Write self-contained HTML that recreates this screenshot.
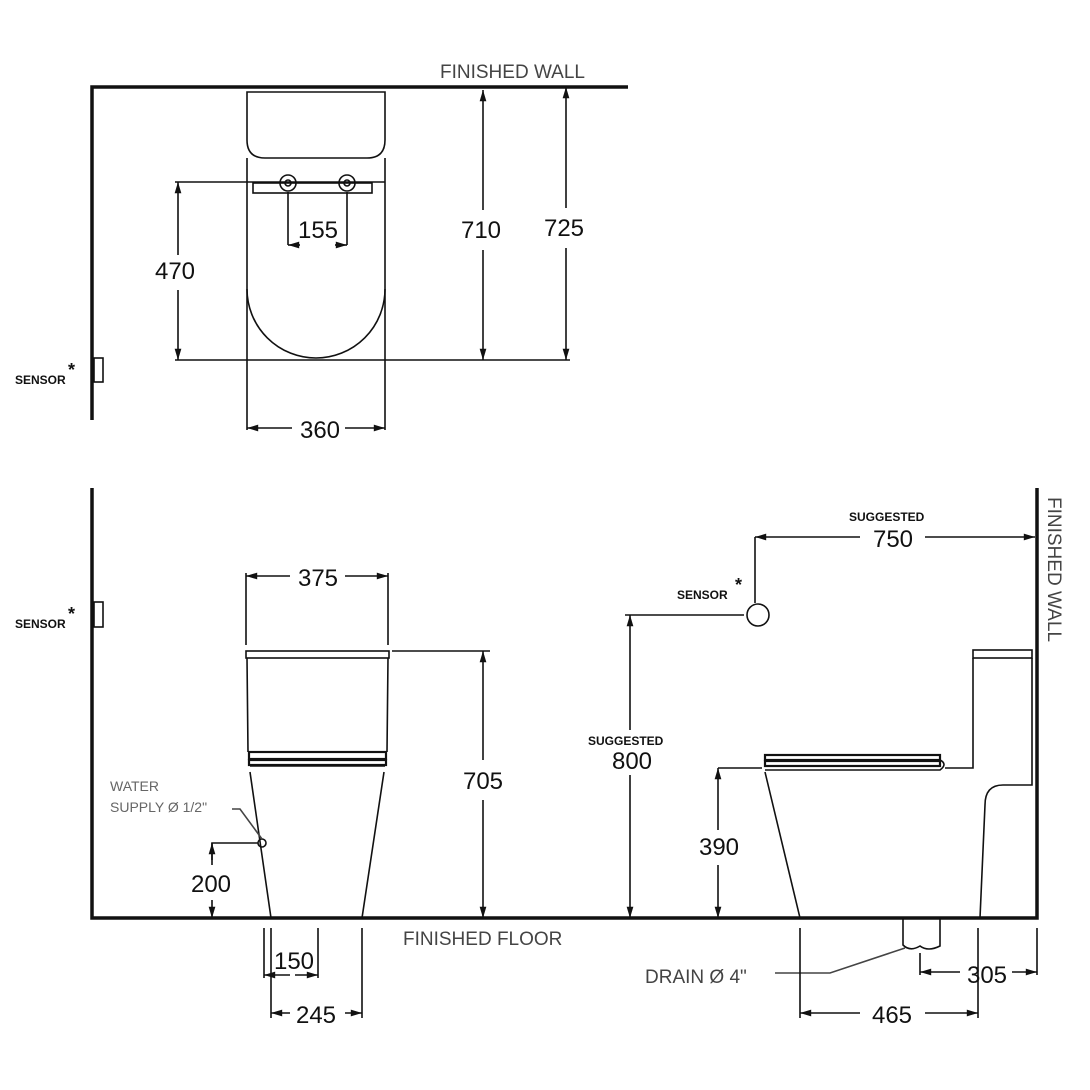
<!DOCTYPE html>
<html><head><style>body{margin:0;background:#fff}svg{display:block}</style></head><body>
<svg width="1090" height="1090" viewBox="0 0 1090 1090" xmlns="http://www.w3.org/2000/svg" font-family="Liberation Sans, sans-serif">
<defs>
<marker id="a" viewBox="0 0 10 10" refX="10" refY="5" markerWidth="9" markerHeight="7" orient="auto-start-reverse"><path d="M0,2 L10,5 L0,8 z" fill="#111"/></marker>
</defs>
<rect width="1090" height="1090" fill="#fff"/>
<g stroke="#111" fill="none" stroke-width="1.6">
<path d="M92,420 V87 H628" stroke-width="3.5"/>
<path d="M247,92 H385 V140 Q385,158 367,158 H265 Q247,158 247,140 Z"/>
<path d="M247,158 V430 M385,158 V430"/>
<path d="M247,289 A69,69 0 0 0 385,289"/>
<path d="M175,182 H385"/>
<rect x="253" y="183" width="119" height="10"/>
<circle cx="288" cy="183" r="8"/><circle cx="288" cy="183" r="3"/>
<circle cx="347" cy="183" r="8"/><circle cx="347" cy="183" r="3"/>
<path d="M288,192 V245 M347,192 V245"/>
<path d="M300,245 H288" marker-end="url(#a)"/><path d="M335,245 H347" marker-end="url(#a)"/>
<path d="M175,360 H570"/>
<path d="M178,255 V182" marker-end="url(#a)"/><path d="M178,290 V360" marker-end="url(#a)"/>
<path d="M483,210 V90" marker-end="url(#a)"/><path d="M483,250 V360" marker-end="url(#a)"/>
<path d="M566,208 V87" marker-end="url(#a)"/><path d="M566,248 V360" marker-end="url(#a)"/>
<path d="M292,428 H247" marker-end="url(#a)"/><path d="M345,428 H385" marker-end="url(#a)"/>
<rect x="94" y="358" width="9" height="24"/>
<path d="M92,488 V918 H1037 V488" stroke-width="3.5"/>
<rect x="94" y="602" width="9" height="25"/>
<rect x="246" y="651" width="143" height="7"/>
<path d="M247,658 L248,752 M388,658 L387,752"/>
<rect x="249" y="752" width="137" height="7" stroke-width="2.2"/>
<rect x="249" y="760" width="137" height="5" stroke-width="2.2"/>
<path d="M250,766 H385"/>
<path d="M250,772 L271,918 M384,772 L362,918"/>
<path d="M246,645 V573 M388,645 V573"/>
<path d="M290,576 H246" marker-end="url(#a)"/><path d="M345,576 H388" marker-end="url(#a)"/>
<path d="M392,651 H490"/>
<path d="M483,760 V651" marker-end="url(#a)"/><path d="M483,800 V918" marker-end="url(#a)"/>
<path d="M258,843 H212 V865"/><path d="M212,860 V843" marker-end="url(#a)"/>
<path d="M212,900 V918" marker-end="url(#a)"/>
<circle cx="262" cy="843" r="4"/>
<path d="M232,809 H240 L262,839" stroke="#444"/>
<path d="M264,928 V978 M318,928 V978 M271,928 V1018 M362,928 V1018"/>
<path d="M290,975 H264" marker-end="url(#a)"/><path d="M295,975 H318" marker-end="url(#a)"/>
<path d="M290,1013 H271" marker-end="url(#a)"/><path d="M345,1013 H362" marker-end="url(#a)"/>
<circle cx="758" cy="615" r="11"/>
<path d="M625,615 H744"/>
<path d="M630,730 V615" marker-end="url(#a)"/><path d="M630,775 V918" marker-end="url(#a)"/>
<path d="M755,603 V537"/>
<path d="M860,537 H755" marker-end="url(#a)"/><path d="M925,537 H1035" marker-end="url(#a)"/>
<rect x="973" y="650" width="59" height="8"/>
<path d="M973,658 V768 H945 M1032,658 V785 H1003 Q985,785 985,805 L980,918"/>
<rect x="765" y="755" width="175" height="5" stroke-width="2.2"/>
<rect x="765" y="761" width="175" height="5" stroke-width="2.2"/>
<path d="M940,760 Q948,764 940,770 H765"/>
<path d="M765,772 L800,918"/>
<path d="M718,768 H762"/>
<path d="M718,830 V768" marker-end="url(#a)"/><path d="M718,865 V918" marker-end="url(#a)"/>
<path d="M903,918 V945 Q910,952 920,946 Q928,952 940,946 V918"/>
<path d="M775,973 H830 L905,948" stroke="#444"/>
<path d="M920,953 V975 M1037,928 V975 M800,928 V1018 M978,928 V1018"/>
<path d="M960,972 H920" marker-end="url(#a)"/><path d="M1012,972 H1037" marker-end="url(#a)"/>
<path d="M860,1013 H800" marker-end="url(#a)"/><path d="M925,1013 H978" marker-end="url(#a)"/>
</g>
<g fill="#111" font-size="24" text-anchor="middle">
<text x="318" y="238">155</text>
<text x="175" y="279">470</text>
<text x="481" y="238">710</text>
<text x="564" y="236">725</text>
<text x="320" y="438">360</text>
<text x="318" y="586">375</text>
<text x="483" y="789">705</text>
<text x="211" y="892">200</text>
<text x="294" y="969">150</text>
<text x="316" y="1023">245</text>
<text x="632" y="769">800</text>
<text x="893" y="547">750</text>
<text x="719" y="855">390</text>
<text x="987" y="983">305</text>
<text x="892" y="1023">465</text>
</g>
<g fill="#444" font-size="19">
<text x="440" y="78">FINISHED WALL</text>
<text x="403" y="945">FINISHED FLOOR</text>
<text x="645" y="983">DRAIN Ø 4"</text>
<text transform="translate(1048,497) rotate(90)">FINISHED WALL</text>
</g>
<g fill="#666" font-size="14">
<text x="110" y="791">WATER</text>
<text x="110" y="812">SUPPLY Ø 1/2"</text>
</g>
<g fill="#111" font-size="12" font-weight="bold">
<text x="15" y="384">SENSOR</text><text x="68" y="376" font-size="18">*</text>
<text x="15" y="628">SENSOR</text><text x="68" y="620" font-size="18">*</text>
<text x="677" y="599">SENSOR</text><text x="735" y="591" font-size="18">*</text>
<text x="588" y="745">SUGGESTED</text>
<text x="849" y="521">SUGGESTED</text>
</g>
</svg>
</body></html>
